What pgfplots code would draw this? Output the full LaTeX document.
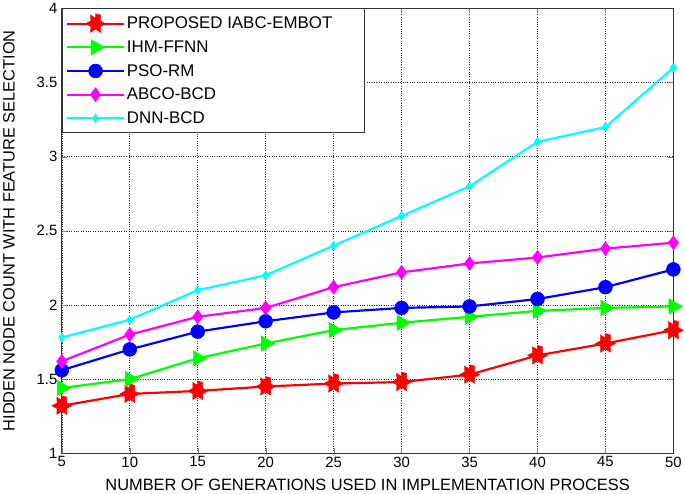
\documentclass[border=0pt]{standalone}
\usepackage{pgfplots}
\pgfplotsset{compat=1.18}
\usepackage{fontspec}
\setmainfont{Liberation Sans}
\definecolor{mred}{RGB}{255,0,0}
\definecolor{mgreen}{RGB}{0,255,0}
\definecolor{mblue}{RGB}{0,0,255}
\definecolor{mmag}{RGB}{255,0,255}
\definecolor{mcyan}{RGB}{0,255,255}
\pgfdeclareplotmark{hexagram}{%
  \pgfpathmoveto{\pgfpointpolar{90}{\pgfplotmarksize}}%
  \foreach \a in {0,1,...,11}{%
    \pgfmathsetmacro\ang{90+30*\a}%
    \ifodd\a
      \pgfpathlineto{\pgfpointpolar{\ang}{\pgfplotmarksize}}%
    \else
      \pgfpathlineto{\pgfpointpolar{\ang}{0.55*\pgfplotmarksize}}%
    \fi
  }%
  \pgfpathclose
  \pgfusepathqfillstroke
}
\begin{document}
\begin{tikzpicture}
\begin{axis}[
  scale only axis,
  width=616pt, height=448pt,
  xmin=5, xmax=50, ymin=1, ymax=4,
  xtick={5,10,...,50},
  ytick={1,1.5,...,4},
  yticklabels={1,1.5,2,2.5,3,3.5,4},
  tick align=inside,
  tick pos=both,
  major tick length=5pt,
  grid=major,
  major grid style={black!85, dotted, line width=0.6pt},
  axis line style={black!80, line width=0.8pt},
  /pgf/number format/assume math mode=true,
  tick label style={font=\fontsize{15}{17}\selectfont},
  yticklabel style={xshift=-1pt},
  label style={font=\fontsize{16.5}{18}\selectfont},
  xlabel={NUMBER OF GENERATIONS USED IN IMPLEMENTATION PROCESS},
  ylabel={HIDDEN NODE COUNT WITH FEATURE SELECTION},
  xlabel style={yshift=-5pt},
  ylabel style={yshift=15pt},
  legend cell align=left,
  legend style={font=\fontsize{17}{19}\selectfont, draw=black!80, line width=0.8pt, fill=white,
    at={(0,1)}, anchor=north west, inner xsep=4pt, inner ysep=5pt,
    row sep=6.5pt},
  legend image code/.code={%
    \draw[#1, mark repeat=2, mark phase=2] plot coordinates {(6pt,0pt) (34.5pt,0pt) (63pt,0pt)};},
  every axis plot/.append style={line width=2.2pt},
]
\addplot[mred, mark=hexagram, mark size=10pt, mark options={fill=mred, line width=0.5pt}] coordinates {
(5,1.32) (10,1.40) (15,1.42) (20,1.45) (25,1.47) (30,1.48) (35,1.53) (40,1.66) (45,1.74) (50,1.83)};
\addlegendentry{PROPOSED IABC-EMBOT\rule{26pt}{0pt}}
\addplot[mgreen, mark=triangle*, mark size=9pt, mark options={rotate=-90, fill=mgreen, line width=0.5pt}] coordinates {
(5,1.44) (10,1.50) (15,1.64) (20,1.74) (25,1.83) (30,1.88) (35,1.92) (40,1.96) (45,1.98) (50,1.99)};
\addlegendentry{IHM-FFNN}
\addplot[mblue, mark=*, mark size=7pt, mark options={fill=mblue, line width=0.5pt}] coordinates {
(5,1.56) (10,1.70) (15,1.82) (20,1.89) (25,1.95) (30,1.98) (35,1.99) (40,2.04) (45,2.12) (50,2.24)};
\addlegendentry{PSO-RM}
\addplot[mmag, mark=diamond*, mark size=7pt, mark options={fill=mmag, line width=0.5pt}] coordinates {
(5,1.62) (10,1.80) (15,1.92) (20,1.98) (25,2.12) (30,2.22) (35,2.28) (40,2.32) (45,2.38) (50,2.42)};
\addlegendentry{ABCO-BCD}
\addplot[mcyan, mark=diamond*, mark size=4.5pt, mark options={fill=mcyan, line width=0.5pt}] coordinates {
(5,1.78) (10,1.90) (15,2.10) (20,2.20) (25,2.40) (30,2.60) (35,2.80) (40,3.10) (45,3.20) (50,3.60)};
\addlegendentry{DNN-BCD}
\end{axis}
\end{tikzpicture}
\end{document}
